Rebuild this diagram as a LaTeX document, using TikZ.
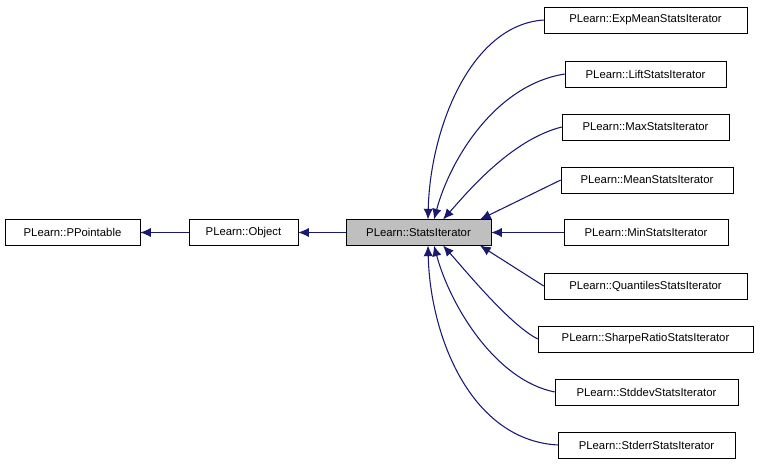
\documentclass[tikz,border=0pt]{standalone}
\usepackage{fontspec}
\setmainfont{Liberation Sans}
\usetikzlibrary{arrows.meta}
\begin{document}
\begin{tikzpicture}[x=0.75pt,y=-0.75pt,
 box/.style={draw,inner sep=0pt,minimum height=19.5pt,font=\fontsize{8.5}{10}\selectfont,anchor=center},
 arr/.style={draw={rgb,255:red,25;green,25;blue,112},-{Latex[length=8pt,width=7pt]},thick}]
\useasboundingbox (0,0) rectangle (760,467);
\node[box,minimum width=101.25pt] (PP) at (72.5,232.5) {PLearn::PPointable};
\node[box,minimum width=81.75pt] (OB) at (243.5,232.5) {PLearn::Object};
\node[box,minimum width=108.75pt,fill={rgb,255:red,191;green,191;blue,191}] (SI) at (418.5,232.5) {PLearn::StatsIterator};
\node[box,minimum width=152.25pt] (A) at (645.5,20) {PLearn::ExpMeanStatsIterator};
\node[box,minimum width=120.75pt] (B) at (645.5,74) {PLearn::LiftStatsIterator};
\node[box,minimum width=125.25pt] (C) at (645.5,127) {PLearn::MaxStatsIterator};
\node[box,minimum width=129pt] (D) at (647,180) {PLearn::MeanStatsIterator};
\node[box,minimum width=123pt] (E) at (646,232.5) {PLearn::MinStatsIterator};
\node[box,minimum width=152.25pt] (F) at (645.5,286) {PLearn::QuantilesStatsIterator};
\node[box,minimum width=161.25pt] (G) at (645.5,339) {PLearn::SharpeRatioStatsIterator};
\node[box,minimum width=137.25pt] (H) at (646.5,392) {PLearn::StddevStatsIterator};
\node[box,minimum width=132.75pt] (I) at (646.5,445) {PLearn::StderrStatsIterator};
\coordinate (ta) at (428,219.5); \coordinate (tb) at (434,219.5); \coordinate (tc) at (443,219.5); \coordinate (td) at (480,219.5);
\coordinate (bf) at (480,245.5); \coordinate (bg) at (443,245.5); \coordinate (bh) at (434,245.5); \coordinate (bi) at (428,245.5);
\draw[arr] (OB.west) -- (PP.east);
\draw[arr] (SI.west) -- (OB.east);
\draw[arr] (A.west) .. controls (470,25) and (430,130) .. (ta);
\draw[arr] (B.west) .. controls (495,85) and (450,160) .. (tb);
\draw[arr] (C.west) .. controls (510,140) and (465,195) .. (tc);
\draw[arr] (D.west) -- (td);
\draw[arr] (E.west) -- (SI.east);
\draw[arr] (F.west) -- (bf);
\draw[arr] (G.west) .. controls (510,325) and (465,270) .. (bg);
\draw[arr] (H.west) .. controls (495,380) and (450,305) .. (bh);
\draw[arr] (I.west) .. controls (470,440) and (430,335) .. (bi);
\end{tikzpicture}
\end{document}
